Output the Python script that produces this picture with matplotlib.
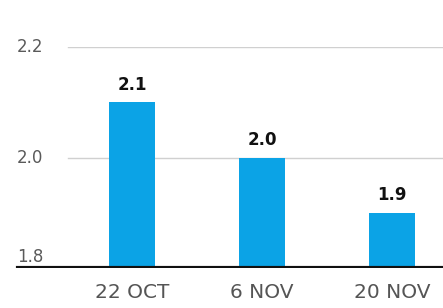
import matplotlib
matplotlib.use("Agg")
import matplotlib.pyplot as plt
import matplotlib.transforms as mtransforms

categories = ["22 OCT", "6 NOV", "20 NOV"]
values = [2.1, 2.0, 1.9]
value_labels = ["2.1", "2.0", "1.9"]
yticks = [1.8, 2.0, 2.2]
ytick_labels = ["1.8", "2.0", "2.2"]

W, H = 443, 308
fig = plt.figure(figsize=(W / 100, H / 100), dpi=100)
ax = fig.add_axes([0, 40 / H, 1, (261 - 40) / H])
ax.set_facecolor("white")
ax.set_ylim(1.8, 2.2)
ax.set_xlim(-132 / 130, (W - 132) / 130)

x = list(range(len(categories)))
bars = ax.bar(x, [v - 1.8 for v in values], bottom=1.8, width=0.36,
              color="#0ba3e6", zorder=2)

for s in ax.spines.values():
    s.set_visible(False)

# gridlines
for t in yticks[1:]:
    ax.axhline(t, xmin=68 / W, xmax=1, color="#d0d0d0", lw=1.0, zorder=1)
# baseline
ax.axhline(1.8, xmin=18 / W, xmax=1, color="#111111", lw=3.0, zorder=3)

# y labels
trans = mtransforms.blended_transform_factory(ax.transAxes, ax.transData)
for t, lab in zip(yticks, ytick_labels):
    ax.annotate(lab, (17 / W, t), xycoords=trans,
                xytext=(0, 1.5 if t == 1.8 else 0), textcoords="offset points",
                ha="left", va="bottom" if t == 1.8 else "center",
                fontsize=12, color="#5a5a5a", family="DejaVu Sans",
                annotation_clip=False)

# value labels
for xi, v, lab in zip(x, values, value_labels):
    ax.annotate(lab, (xi, v), xytext=(0, 6), textcoords="offset points",
                ha="center", va="bottom", fontsize=12, fontweight="bold",
                color="#111111", family="DejaVu Sans")

ax.set_yticks([])
ax.set_xticks(x)
ax.set_xticklabels(categories, fontsize=14.5, color="#555555",
                   family="DejaVu Sans")
ax.tick_params(axis="x", length=0, pad=10.5)

fig.savefig("out.png", dpi=100, facecolor="white")
